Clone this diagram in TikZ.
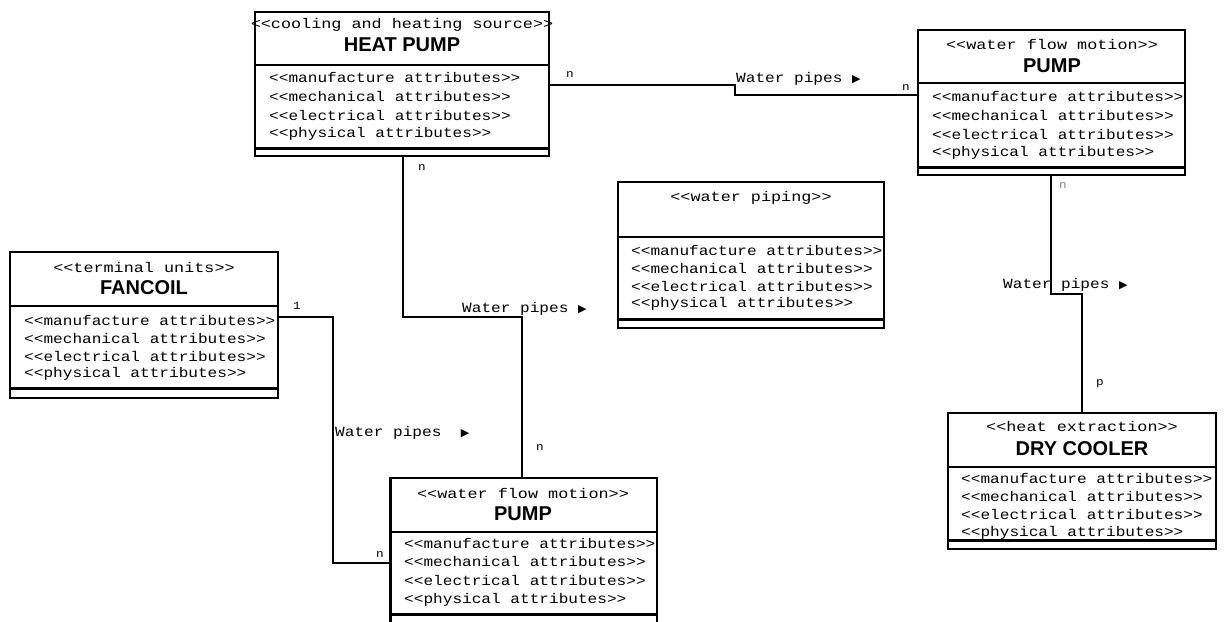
\documentclass[tikz,border=0pt]{standalone}
\usepackage{fontspec}
\newfontfamily\umono[FakeStretch=1.15]{Liberation Mono}
\newfontfamily\umonoS[FakeStretch=1.2]{Liberation Mono}
\newfontfamily\usans{Liberation Sans}
\newfontfamily\dv{DejaVu Sans}
\begin{document}
\begin{tikzpicture}[x=1pt,y=-1pt,
 cls/.style={draw, line width=1.6pt, anchor=north west, inner sep=0, outer sep=0, fill=white},
 sep/.style={line width=1.4pt},
 septhick/.style={line width=3pt},
 st/.style={font=\umonoS\fontsize{14}{14}\selectfont, inner sep=0},
 attr/.style={font=\umono\fontsize{14}{14}\selectfont, anchor=west, inner sep=0},
 ttl/.style={font=\usans\bfseries\fontsize{20}{20}\selectfont, inner sep=0},
 wire/.style={line width=1.5pt},
 lbl/.style={font=\umono\fontsize{14}{14}\selectfont, inner sep=0, anchor=west},
 mult/.style={font=\umono\fontsize{11}{11}\selectfont, inner sep=0}]
\useasboundingbox[fill=white] (0,0) rectangle (1225,621);

% ---------- HEAT PUMP ----------
\node[cls, minimum width=294pt, minimum height=144pt] (hp) at (255,12) {};
\draw[sep] (255,65) -- (549,65);
\draw[septhick] (255,148) -- (549,148);
\node[st] (hps) at (402,25) {<<cooling and heating source>>};
\node[ttl] (hpt) at (402,45) {HEAT PUMP};
\node[attr] (hpa1) at (269,77) {<<manufacture attributes>>};
\node[attr] (hpa2) at (269,96) {<<mechanical attributes>>};
\node[attr] (hpa3) at (269,115) {<<electrical attributes>>};
\node[attr] (hpa4) at (269,134) {<<physical attributes>>};

% ---------- PUMP (top right) ----------
\node[cls, minimum width=267pt, minimum height=145pt] (pa) at (918,30) {};
\draw[sep] (918,83) -- (1185,83);
\draw[septhick] (918,167) -- (1185,167);
\node[st] (pas) at (1052,44) {<<water flow motion>>};
\node[ttl] (pat) at (1052,66) {PUMP};
\node[attr] (paa1) at (932,96) {<<manufacture attributes>>};
\node[attr] (paa2) at (932,115) {<<mechanical attributes>>};
\node[attr] (paa3) at (932,134) {<<electrical attributes>>};
\node[attr] (paa4) at (932,153) {<<physical attributes>>};

% ---------- FANCOIL ----------
\node[cls, minimum width=268pt, minimum height=146pt] (fc) at (10,252) {};
\draw[sep] (10,306) -- (278,306);
\draw[septhick] (10,388) -- (278,388);
\node[st] (fcs) at (144,267) {<<terminal units>>};
\node[ttl] (fct) at (144,288) {FANCOIL};
\node[attr] (fca1) at (24,320) {<<manufacture attributes>>};
\node[attr] (fca2) at (24,338) {<<mechanical attributes>>};
\node[attr] (fca3) at (24,356) {<<electrical attributes>>};
\node[attr] (fca4) at (24,374) {<<physical attributes>>};

% ---------- WATER PIPING ----------
\node[cls, minimum width=266pt, minimum height=146pt] (wp) at (618,182) {};
\draw[sep] (618,237) -- (884,237);
\draw[septhick] (618,319) -- (884,319);
\node[st] (wps) at (751,198) {<<water piping>>};
\node[attr] (wpa1) at (631,250) {<<manufacture attributes>>};
\node[attr] (wpa2) at (631,268) {<<mechanical attributes>>};
\node[attr] (wpa3) at (631,286) {<<electrical attributes>>};
\node[attr] (wpa4) at (631,304) {<<physical attributes>>};

% ---------- PUMP (bottom) ----------
\node[cls, minimum width=267pt, minimum height=152pt] (pb) at (390,478) {};
\draw[line width=3pt] (390,478) -- (390,630);
\draw[sep] (390,532) -- (657,532);
\draw[septhick] (390,614) -- (657,614);
\node[st] (pbs) at (523,493) {<<water flow motion>>};
\node[ttl] (pbt) at (523,514) {PUMP};
\node[attr] (pba1) at (404,543) {<<manufacture attributes>>};
\node[attr] (pba2) at (404,561) {<<mechanical attributes>>};
\node[attr] (pba3) at (404,580) {<<electrical attributes>>};
\node[attr] (pba4) at (404,600) {<<physical attributes>>};

% ---------- DRY COOLER ----------
\node[cls, minimum width=268pt, minimum height=136pt] (dc) at (948,413) {};
\draw[sep] (948,467) -- (1216,467);
\draw[septhick] (948,540) -- (1216,540);
\node[st] (dcs) at (1082,426) {<<heat extraction>>};
\node[ttl] (dct) at (1082,449) {DRY COOLER};
\node[attr] (dca1) at (961,478) {<<manufacture attributes>>};
\node[attr] (dca2) at (961,496) {<<mechanical attributes>>};
\node[attr] (dca3) at (961,514) {<<electrical attributes>>};
\node[attr] (dca4) at (961,533) {<<physical attributes>>};

% ---------- connectors ----------
\coordinate (c1) at (735,85);
\coordinate (c2) at (735,95);
\draw[wire] (hp.east |- c1) -- (c1) -- (c2) -- (pa.west |- c2);

\coordinate (c3) at (403,317);
\coordinate (c4) at (522,317);
\draw[wire] (hp.south -| c3) -- (c3) -- (c4) -- (pb.north -| c4);

\coordinate (c5) at (333,317);
\coordinate (c6) at (333,563);
\draw[wire] (fc.east |- c5) -- (c5) -- (c6) -- (pb.west |- c6);

\coordinate (c7) at (1051,294);
\coordinate (c8) at (1082,294);
\draw[wire] (pa.south -| c7) -- (c7) -- (c8) -- (dc.north -| c8);

% ---------- association labels ----------
\node[lbl] (l1) at (736,79) {Water pipes {\dv\fontsize{11}{11}\selectfont ▶}};
\node[lbl] (l2) at (462,309) {Water pipes {\dv\fontsize{11}{11}\selectfont ▶}};
\node[lbl] (l3) at (335,433) {Water pipes \ {\dv\fontsize{11}{11}\selectfont ▶}};
\node[lbl] (l4) at (1003,285) {Water pipes {\dv\fontsize{11}{11}\selectfont ▶}};

% ---------- multiplicities ----------
\node[mult] (m1) at (570,75) {n};
\node[mult] (m2) at (906,88) {n};
\node[mult] (m3) at (422,168) {n};
\node[mult] (m4) at (540,448) {n};
\node[mult] (m5) at (297,306) {1};
\node[mult] (m6) at (380,555) {n};
\node[mult, text=gray] (m7) at (1063,186) {n};
\node[mult] (m8) at (1100,384) {p};
\end{tikzpicture}
\end{document}
